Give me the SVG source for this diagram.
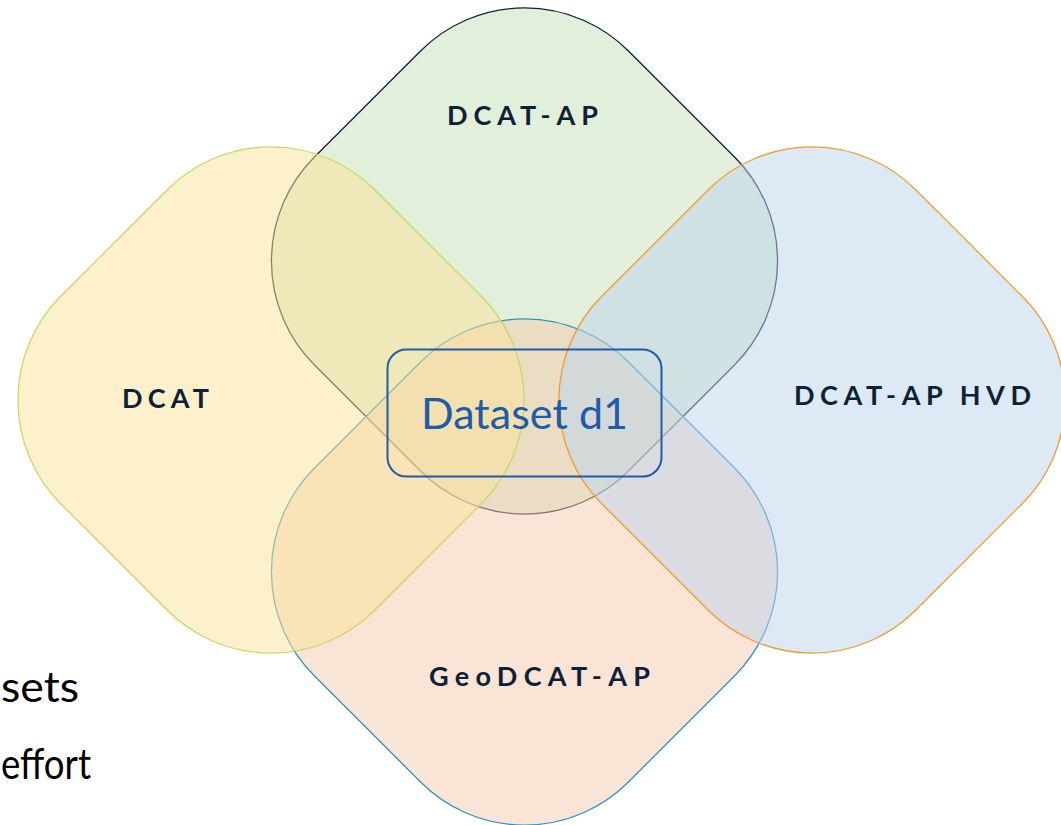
<svg xmlns="http://www.w3.org/2000/svg" xmlns:xlink="http://www.w3.org/1999/xlink" width="1061" height="825" viewBox="0 0 1061 825">
  <style>
    .label { font-family: "Lato", "Liberation Sans", sans-serif; font-weight: 700; font-size: 27px; fill: #0d2136; }
    .body { font-family: "Lato", "Liberation Sans", sans-serif; font-size: 42px; fill: #000000; }
    .blob { stroke-width: 1.3; }
    #dcat-ap .blob { fill: #e2efda; stroke: #0d2436; }
    #geodcat-ap .blob { fill: #f3c9ad; fill-opacity: 0.5; stroke: #2e94c8; }
    #dcat .blob { fill: #fbe397; fill-opacity: 0.5; stroke: #c4d96b; }
    #dcat-ap-hvd .blob { fill: #bbd3eb; fill-opacity: 0.5; stroke: #f39a2e; }
  </style>
  <defs>
    <!-- rounded square, centred on the origin; rotated 45deg it becomes a soft diamond -->
    <rect id="diamond" x="-222" y="-222" width="444" height="444" rx="147" ry="147"/>
  </defs>

  <rect width="1061" height="825" fill="#ffffff"/>

  <!-- leftover words at the left edge -->
  <text class="body" x="1" y="702" textLength="78" lengthAdjust="spacingAndGlyphs">sets</text>
  <text class="body" x="1" y="779" textLength="90" lengthAdjust="spacingAndGlyphs">effort</text>

  <g id="dcat-ap">
    <use xlink:href="#diamond" class="blob" transform="translate(524.5 261) rotate(45)"/>
    <text class="label" x="447" y="125" textLength="151">DCAT-AP</text>
  </g>

  <g id="geodcat-ap">
    <use xlink:href="#diamond" class="blob" transform="translate(524.5 572) rotate(45)"/>
    <text class="label" x="429" y="686" textLength="221">GeoDCAT-AP</text>
  </g>

  <g id="dcat">
    <use xlink:href="#diamond" class="blob" transform="translate(271 400) rotate(45)"/>
    <text class="label" x="122" y="408" textLength="87">DCAT</text>
  </g>

  <g id="dcat-ap-hvd">
    <use xlink:href="#diamond" class="blob" transform="translate(812 400) rotate(45)"/>
    <text class="label" x="794" y="405" textLength="237">DCAT-AP HVD</text>
  </g>

  <g id="dataset-d1">
    <rect x="387.5" y="349.5" width="274" height="127" rx="19" ry="19" fill="none" stroke="#1f5ca8" stroke-width="2"/>
    <text x="421" y="429" textLength="207" font-family="Lato, 'Liberation Sans', sans-serif" font-size="43" fill="#1f5ca8">Dataset d1</text>
  </g>
</svg>
